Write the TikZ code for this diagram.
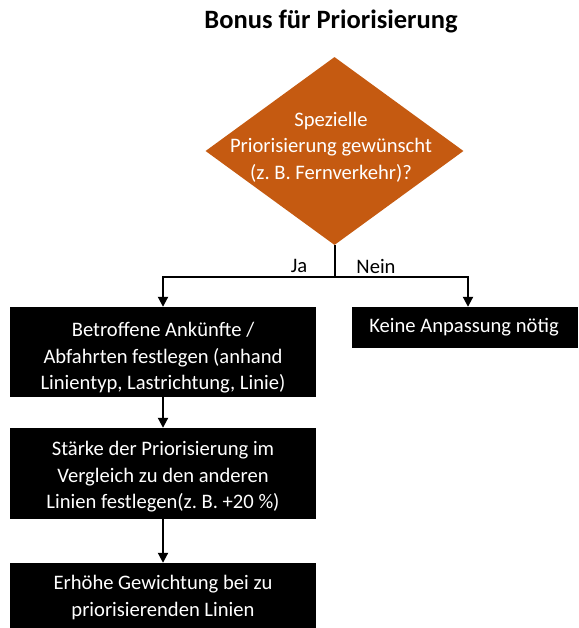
\documentclass[tikz,border=0pt]{standalone}
\usepackage{fontspec}
\setmainfont{Carlito}
\usetikzlibrary{shapes.geometric,arrows.meta}
\definecolor{decorange}{HTML}{C55A11}
\tikzset{
  bodytext/.style={font=\fontsize{20.6}{26.6}\selectfont, align=center, inner sep=0pt},
  steptext/.style={bodytext, text=white},
  stepbox/.style={rectangle, fill=black, inner sep=0pt},
  decision/.style={diamond, fill=decorange, inner sep=0pt},
  flow/.style={line width=2pt, -{Triangle[width=10pt,length=10pt]}},
  branchlabel/.style={bodytext}
}
\begin{document}
\begin{tikzpicture}[x=1pt, y=-1pt]
  \useasboundingbox (0,0) rectangle (578,628);

  % title
  \node[font=\fontsize{26.5}{30}\selectfont\bfseries, inner sep=0pt] (title) at (331,21) {Bonus für Priorisierung};

  % decision
  \node[decision, minimum width=258pt, minimum height=188pt] (dec) at (334.5,151) {};
  \node[steptext] (dectext) at (331,147) {Spezielle\\Priorisierung gewünscht\\(z.~B. Fernverkehr)?};

  % process steps
  \node[stepbox, minimum width=306pt, minimum height=90pt] (b1) at (163,352) {};
  \node[steptext] (b1text) at (163,358)
    {Betroffene Ankünfte /\\Abfahrten festlegen (anhand\\Linientyp, Lastrichtung, Linie)};
  \node[stepbox, minimum width=306pt, minimum height=91pt] (b2) at (163,473.5) {};
  \node[steptext] (b2text) at (163,477)
    {Stärke der Priorisierung im\\Vergleich zu den anderen\\Linien festlegen(z.~B. +20~\%)};
  \node[stepbox, minimum width=306pt, minimum height=65pt] (b3) at (163,595.5) {};
  \node[steptext] (b3text) at (163,597.5)
    {Erhöhe Gewichtung bei zu\\priorisierenden Linien};
  \node[stepbox, minimum width=226pt, minimum height=41pt] (nochange) at (465,327.5) {};
  \node[steptext] (nochangetext) at (464,327.5) {Keine Anpassung nötig};

  % branches
  \coordinate (split) at (dec.south |- 0,277);
  \coordinate (noin) at ([xshift=3pt]nochange.north);
  \draw[line width=2pt] (dec.south) -- (split);
  \draw[flow] (split) -| (b1.north);
  \draw[flow] (split) -| (noin);
  \node[branchlabel] (ja) at (299,266) {Ja};
  \node[branchlabel] (nein) at (376,266) {Nein};

  \draw[flow] (b1.south) -- (b2.north);
  \draw[flow] (b2.south) -- (b3.north);
\end{tikzpicture}
\end{document}
